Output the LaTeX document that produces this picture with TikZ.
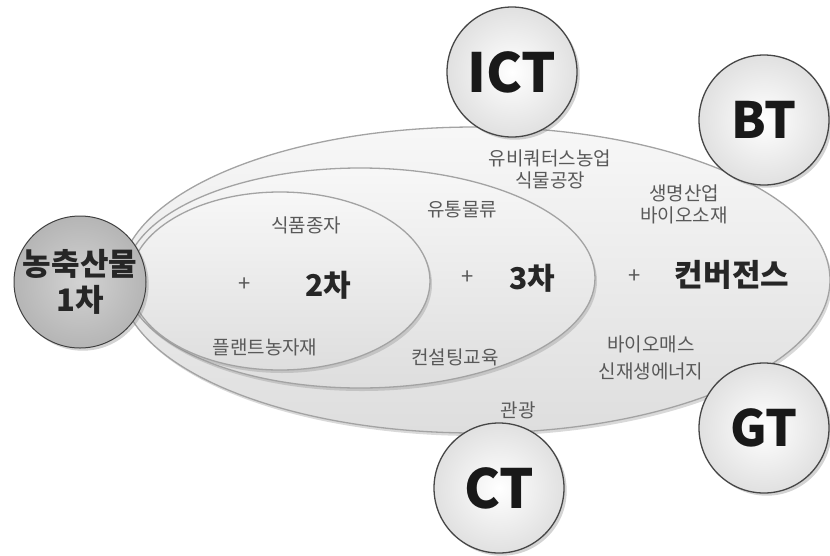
\documentclass[tikz,border=0pt]{standalone}
\usepackage{fontspec}
\setmainfont{Noto Sans CJK KR}
\usetikzlibrary{shadows}

\tikzset{
  ring/.style={draw=gray!72, line width=1.3pt, top color=gray!6, bottom color=gray!26,
    drop shadow={opacity=0.3, shadow xshift=2pt, shadow yshift=-3pt}},
  tech/.style={circle, minimum size=130pt, inner sep=0pt, draw=gray!55!black, line width=1.3pt,
    inner color=white, outer color=gray!24, drop shadow={opacity=0.35},
    font=\fontsize{54}{54}\selectfont\bfseries, text=black!90},
  base/.style={circle, minimum size=132pt, inner sep=0pt, draw=gray!50!black, line width=1pt,
    inner color=gray!35, outer color=gray!58, drop shadow={opacity=0.35}, align=center,
    font=\fontsize{31}{36}\selectfont\bfseries, text=black!85},
  item/.style={text=gray!70!black, font=\fontsize{19}{22}\selectfont, align=center},
  level/.style={text=black!85, font=\fontsize{30}{30}\selectfont\bfseries},
  plus/.style={text=gray!70!black, font=\fontsize{22}{22}\selectfont}
}

\begin{document}
\begin{tikzpicture}[x=1pt,y=-1pt]
\useasboundingbox (0,0) rectangle (830,555);

% 타원: 컨버전스, 3차, 2차
\draw[ring] (475,280) ellipse [x radius=355, y radius=153];
\draw[ring] (360,278) ellipse [x radius=235, y radius=110];
\draw[ring] (280,281) ellipse [x radius=150, y radius=89];

% 1차
\node[base] (first) at (80,282) {농축산물\\1차};

% 기술 원
\node[tech] (ict) at (512,72) {ICT};
\node[tech, font=\fontsize{50}{50}\selectfont\bfseries] (bt) at (764,120) {BT};
\node[tech, font=\fontsize{50}{50}\selectfont\bfseries] (gt) at (764,428) {GT};
\node[tech] (ct) at (499,488) {CT};

% 2차
\node[item] (seed) at (306,225) {식품종자};
\node[item] (plant) at (265,347) {플랜트농자재};
\node[plus] (plusa) at (245,285) {+};
\node[level] (second) at (328,285) {2차};

% 3차
\node[item] (logis) at (462,210) {유통물류};
\node[item] (consult) at (455,357) {컨설팅교육};
\node[plus] (plusb) at (468,278) {+};
\node[level] (third) at (532,278) {3차};

% 컨버전스
\node[item] (ubiq) at (550,169) {유비쿼터스농업\\식물공장};
\node[item] (bio) at (684,204) {생명산업\\바이오소재};
\node[item] (mass) at (651,358) {바이오매스\\[5pt]신재생에너지};
\node[item] (tour) at (518,410) {관광};
\node[plus] (plusc) at (635,277) {+};
\node[level, font=\fontsize{31}{31}\selectfont\bfseries] (conv) at (732,275) {컨버전스};

\end{tikzpicture}
\end{document}
